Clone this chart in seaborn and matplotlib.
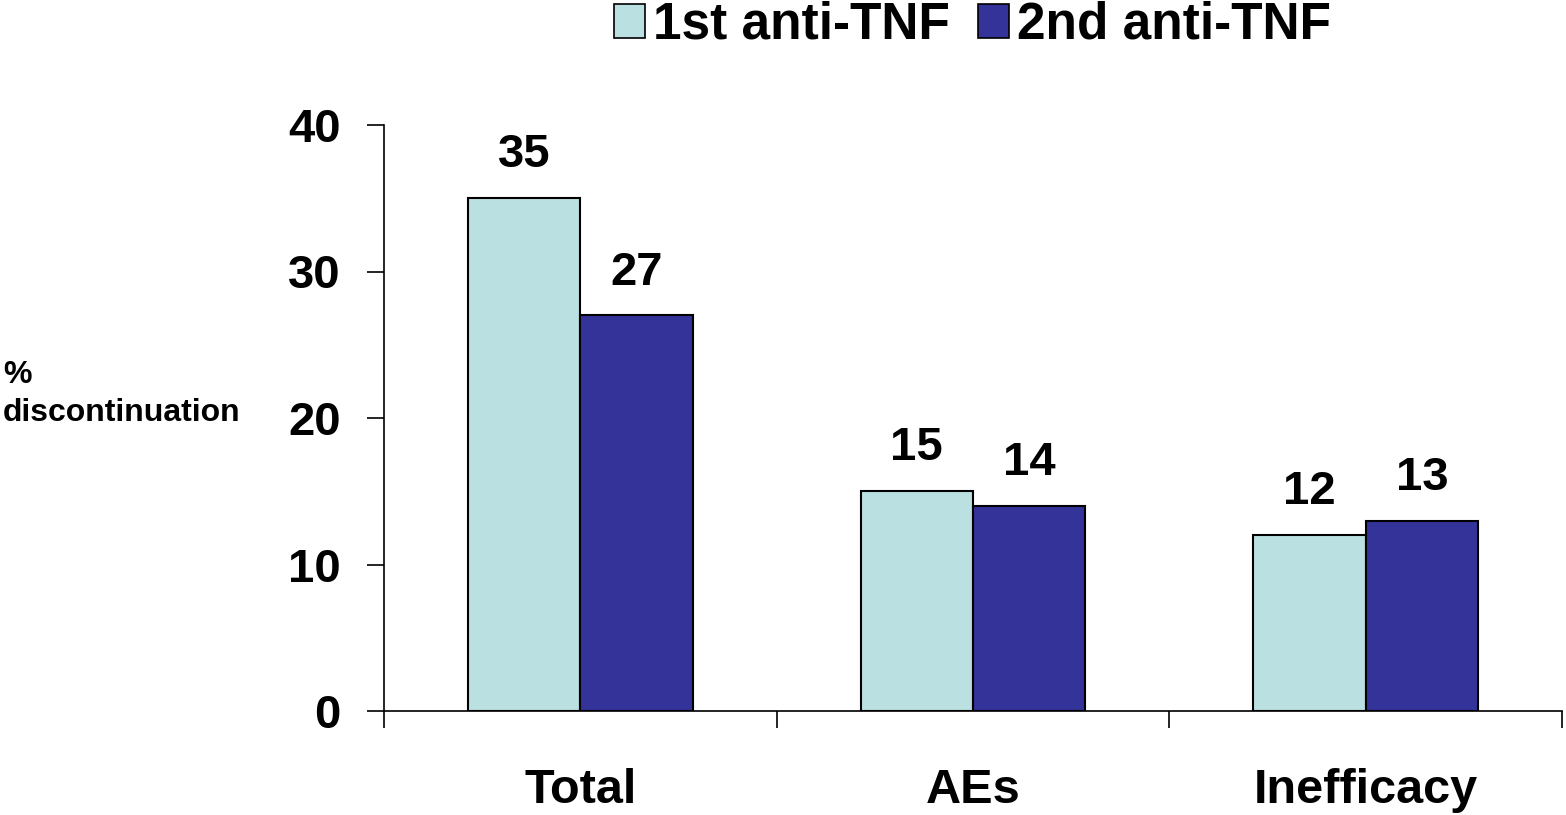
import matplotlib
matplotlib.use('Agg')
import matplotlib.pyplot as plt
from matplotlib.ticker import FixedLocator
import seaborn as sns
import pandas as pd

# data
reasons = ['Total', 'AEs', 'Inefficacy']
first_line = [35, 15, 12]
second_line = [27, 14, 13]
series_names = ['1st anti-TNF', '2nd anti-TNF']
bar_colors = ['#BAE0E2', '#333399']
y_ticks = [0, 10, 20, 30, 40]

df = pd.DataFrame({
    'reason': reasons * 2,
    'pct': first_line + second_line,
    'line': [series_names[0]] * 3 + [series_names[1]] * 3,
})

sns.set_style('ticks')
plt.rcParams['font.family'] = ['Liberation Sans', 'DejaVu Sans']
plt.rcParams['font.weight'] = 'bold'
plt.rcParams['text.color'] = 'black'
plt.rcParams['xtick.color'] = 'black'
plt.rcParams['ytick.color'] = 'black'
plt.rcParams['axes.edgecolor'] = 'black'

fig = plt.figure(figsize=(15.66, 8.15), dpi=100)
ax = fig.add_axes([384 / 1566, 1 - 711 / 815, (1562 - 384) / 1566, (711 - 125) / 815])

sns.barplot(data=df, x='reason', y='pct', hue='line', palette=bar_colors,
            saturation=1, width=0.573, edgecolor='black', linewidth=1.5, ax=ax)

# value labels above bars
for cont in ax.containers:
    ax.bar_label(cont, fmt='%d', padding=15, fontsize=34, fontweight='bold',
                 color='black')

ax.set_xlim(-0.5, 2.5)
ax.set_ylim(0, 40)
ax.set_yticks(y_ticks)
ax.tick_params(axis='y', labelsize=34, length=12, width=1.2, pad=19, direction='out')
ax.tick_params(axis='x', which='major', labelsize=35, length=0, pad=41)
ax.xaxis.set_minor_locator(FixedLocator([-0.5, 0.5, 1.5, 2.5]))
ax.tick_params(axis='x', which='minor', length=12, width=1.2, direction='out')
for lbl in ax.get_xticklabels() + ax.get_yticklabels():
    lbl.set_fontweight('bold')
ax.set_xlabel('')
ax.set_ylabel('')
sns.despine(ax=ax)
for sp in ['left', 'bottom']:
    ax.spines[sp].set_linewidth(1.2)

fig.text(3 / 1566, 1 - 360 / 815, '%\ndiscontinuation', ha='left', va='top',
         fontsize=23, fontweight='bold', linespacing=1.35)

# legend on top
ax.legend_.remove()
handles = [plt.Rectangle((0, 0), 1, 1, facecolor=c, edgecolor='black', linewidth=1.2)
           for c in bar_colors]
fig.legend(handles, series_names, loc='center', bbox_to_anchor=(0.621, 0.969),
           ncol=2, frameon=False, prop={'size': 37, 'weight': 'bold'},
           handlelength=0.6, handleheight=0.65, handletextpad=0.15,
           columnspacing=0.55, borderpad=0, borderaxespad=0)

fig.savefig('out.png', dpi=100)
